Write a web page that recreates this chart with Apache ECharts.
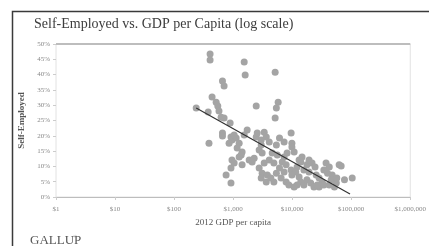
<!DOCTYPE html>
<html>
<head>
<meta charset="utf-8">
<script src="https://cdn.jsdelivr.net/npm/echarts@6/dist/echarts.min.js"></script>
<style>
  html, body { margin: 0; padding: 0; background: #fff; }
  #chart { width: 429px; height: 246px; }
</style>
</head>
<body>
<div id="chart"></div>
<script>
// GDP per capita (US$, 2012) for each country
const gdp = [
  407, 407, 1540, 1600, 5150, 660, 703, 440, 516, 550,
  576, 2460, 5790, 5400, 5150, 237, 378, 626, 703, 890,
  660, 660, 390, 920, 957, 1125, 1040, 1265, 854, 1540,
  1730, 2460, 2560, 3360, 3640, 2990, 2760, 3100, 1420, 1370,
  1265, 957, 1040, 920, 1420, 1870, 2100, 2270, 760, 920,
  2760, 3100, 2990, 3640, 3800, 3360, 9600, 6100, 7300, 9900,
  5400, 9900, 10800, 4590, 5600, 7300, 4900, 6800, 14700, 14000,
  17800, 21700, 12100, 5400, 6500, 7900, 4900, 7300, 9600, 9900,
  13100, 14000, 15800, 17800, 20600, 23400, 12100, 37500, 42500, 34400,
  39700, 47600, 45800, 55900, 32200, 28600, 62500, 19300, 25500, 28600,
  67600, 104000, 8800, 10800, 26600, 34400, 42500, 52000, 76900, 57000,
  6100, 7900, 11500, 15800, 4090, 1170, 2990, 4090, 8200, 19300,
  13100, 4350, 24400
]
// share self-employed (%), same order
const selfEmployed = [
  46.7, 44.8, 44.1, 39.9, 40.8, 37.9, 36.3, 32.7, 31.0, 29.7,
  28.1, 29.7, 31.0, 29.1, 25.8, 29.1, 27.8, 26.1, 25.8, 24.2,
  20.9, 19.9, 17.6, 19.6, 18.6, 19.3, 20.3, 17.6, 17.6, 20.3,
  21.9, 19.6, 20.9, 21.2, 19.6, 17.0, 15.4, 14.4, 14.7, 13.7,
  13.1, 12.1, 11.1, 9.5, 10.5, 12.1, 11.4, 12.7, 7.2, 4.6,
  9.5, 7.8, 6.2, 4.9, 7.2, 11.1, 20.9, 19.3, 18.0, 17.6,
  17.0, 16.3, 14.7, 14.4, 13.7, 13.1, 11.1, 11.4, 13.1, 11.4,
  10.5, 11.1, 9.8, 7.8, 6.2, 4.9, 4.9, 8.2, 8.8, 7.2,
  6.5, 4.9, 3.9, 5.6, 4.6, 3.3, 3.9, 11.1, 9.8, 8.8,
  7.8, 7.2, 5.6, 4.6, 4.9, 3.3, 10.5, 8.2, 7.2, 6.2,
  10.1, 6.2, 3.9, 3.3, 3.9, 3.9, 3.9, 3.3, 5.6, 6.2,
  9.5, 10.5, 8.2, 8.8, 12.1, 16.0, 18.6, 18.0, 14.4, 12.1,
  12.1, 6.2, 9.8
]
// fitted trend line end points
const trendGdp = [237, 95500]
const trendPct = [29.1, 1.0]

const xTickLabels = {1: '$1', 10: '$10', 100: '$100', 1000: '$1,000', 10000: '$10,000', 100000: '$100,000', 1000000: '$1,000,000'}

const serif = 'Liberation Serif'
const points = gdp.map((g, i) => [g, selfEmployed[i]])
const trend = trendGdp.map((g, i) => [g, trendPct[i]])

// only the top (50%) split line is visible
const splitColors = []
for (let i = 0; i < 10; i++) splitColors.push('rgba(0,0,0,0)')
splitColors.push('#bdbdbd')

const chart = echarts.init(document.getElementById('chart'), null, {renderer: 'canvas'})
chart.setOption({
  animation: false,
  backgroundColor: '#fff',
  title: {
    text: 'Self-Employed vs. GDP per Capita (log scale)',
    left: 29, top: 12,
    textStyle: {fontFamily: serif, fontSize: 14, fontWeight: 'normal', color: '#3c3c3c'}
  },
  graphic: [
    {type: 'rect', left: 10, top: 9, shape: {width: 500, height: 400},
     style: {fill: 'none', stroke: '#3a3a3a', lineWidth: 1.5}, z: 100},
    {type: 'text', left: 30, top: 234,
     style: {text: 'GALLUP', fill: '#555', font: '13px "Liberation Serif"'}},
    {type: 'text', left: 73, top: 234,
     style: {text: '®', fill: '#777', font: '5px "Liberation Serif"'}}
  ],
  grid: {
    left: 56, right: 18, top: 44, bottom: 49,
    show: true, borderColor: '#e2e2e2', borderWidth: 1
  },
  xAxis: {
    type: 'log', logBase: 10, min: 1, max: 1000000,
    name: '2012 GDP per capita', nameLocation: 'middle', nameGap: 21,
    nameTextStyle: {fontFamily: serif, fontSize: 9, color: '#555'},
    axisLine: {lineStyle: {color: '#bdbdbd', width: 1}},
    axisTick: {show: true, length: 3, lineStyle: {color: '#ccc'}},
    axisLabel: {fontFamily: serif, fontSize: 7, color: '#888', margin: 9,
      formatter: v => xTickLabels[Math.round(v)] || ''},
    splitLine: {show: false},
    minorTick: {show: false}
  },
  yAxis: {
    type: 'value', min: 0, max: 50, interval: 5,
    name: 'Self-Employed', nameLocation: 'middle', nameGap: 25,
    nameTextStyle: {fontFamily: serif, fontSize: 9, fontWeight: 'bold', color: '#555'},
    axisLine: {show: false},
    axisTick: {show: true, length: 3, lineStyle: {color: '#ccc'}},
    axisLabel: {fontFamily: serif, fontSize: 7, color: '#888', margin: 6, formatter: '{value}%'},
    splitLine: {show: true, lineStyle: {color: splitColors, width: 2}}
  },
  series: [
    {
      type: 'scatter', data: points, symbolSize: 7,
      itemStyle: {color: '#a4a4a4', opacity: 1}
    },
    {
      type: 'line', data: trend, symbol: 'none', z: 3,
      lineStyle: {color: '#333', width: 1.2}
    }
  ]
})
</script>
</body>
</html>
